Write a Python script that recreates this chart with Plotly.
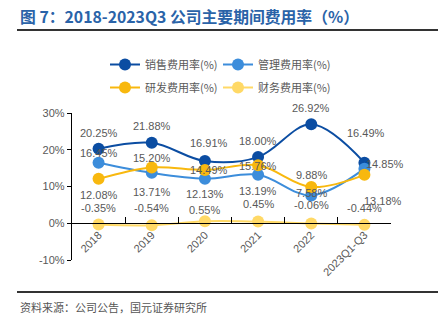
import plotly.graph_objects as go

categories = ["2018", "2019", "2020", "2021", "2022", "2023Q1-Q3"]
sales = [20.25, 21.88, 16.91, 18.00, 26.92, 16.49]
admin = [16.45, 13.71, 12.13, 13.19, 7.58, 14.85]
rnd = [12.08, 15.20, 14.49, 15.76, 9.88, 13.18]
finance = [-0.35, -0.54, 0.55, 0.45, -0.06, -0.44]
names = ["销售费用率(%)", "管理费用率(%)", "研发费用率(%)", "财务费用率(%)"]
y_ticks = [-10, 0, 10, 20, 30]

colors = ["#0B4DA2", "#3C8DDB", "#F8B80E", "#FFD966"]
legend_ids = ["legend", "legend2", "legend", "legend2"]
# label offsets (px) per series: (xshift, yshift)
offsets = [
    [(0, 16), (0, 17), (4, 18), (0, 16), (0, 16), (2, 30)],
    [(0, 10), (0, -19), (0, -15), (0, -16), (0, 2), (21, 5)],
    [(0, -16), (0, 9), (4, 0), (0, -1), (0, 12), (19, -26)],
    [(0, 17), (0, 17), (0, 11), (0, 18), (0, 18), (0, 17)],
]

series = [sales, admin, rnd, finance]
fig = go.Figure()
for k, (name, vals, col, lg) in enumerate(zip(names, series, colors, legend_ids)):
    fig.add_trace(go.Scatter(
        x=categories, y=vals, name=name, mode="lines+markers",
        line=dict(color=col, width=2, shape="spline", smoothing=1),
        marker=dict(color=col, size=12), legend=lg, legendgroup=f"g{k}",
    ))

for vals, offs in zip(series, offsets):
    for i, (v, (dx, dy)) in enumerate(zip(vals, offs)):
        fig.add_annotation(x=i, y=v, text=f"{v:.2f}%", showarrow=False,
                           xshift=dx, yshift=dy,
                           font=dict(size=11, color="#595959", family="Liberation Sans, Arial"))

# title, rules, source
fig.add_annotation(xref="paper", yref="paper", x=-0.168, y=(260 - 17) / 147,
                   xanchor="left", yanchor="middle", showarrow=False,
                   text="<b>图 7：2018-2023Q3 公司主要期间费用率（%）</b>",
                   font=dict(size=15.8, color="#2A63A8", family="Noto Sans CJK SC"))
fig.add_annotation(xref="paper", yref="paper", x=-0.168, y=(260 - 307) / 147,
                   xanchor="left", yanchor="middle", showarrow=False,
                   text="资料来源：公司公告，国元证券研究所",
                   font=dict(size=11, color="#555555", family="Noto Sans CJK SC"))
for ypx in (30, 292):
    fig.add_shape(type="line", xref="paper", yref="paper",
                  x0=(17 - 72) / 319, x1=(438 - 72) / 319,
                  y0=(260 - ypx) / 147, y1=(260 - ypx) / 147,
                  line=dict(color="#333333", width=2))

legend_common = dict(orientation="v", xanchor="left", yanchor="top",
                     font=dict(size=11, color="#595959", family="Noto Sans CJK SC"),
                     itemwidth=30, tracegroupgap=4, bgcolor="rgba(0,0,0,0)")

fig.update_layout(
    width=438, height=323,
    margin=dict(l=72, r=47, t=113, b=63),
    paper_bgcolor="white", plot_bgcolor="white",
    showlegend=True,
    legend=dict(x=(105 - 72) / 319, y=(260 - 50) / 147, **legend_common),
    legend2=dict(x=(218 - 72) / 319, y=(260 - 50) / 147, **legend_common),
    xaxis=dict(type="category", range=[-0.5, len(categories) - 0.5],
               anchor="free", position=0.25,
               showline=True, linecolor="black", linewidth=1.3,
               ticks="inside", tickson="boundaries", ticklen=6, tickcolor="black",
               tickangle=-45, showgrid=False, zeroline=False,
               tickfont=dict(size=11, color="#595959", family="Liberation Sans, Arial")),
    yaxis=dict(range=[-10, 30], tickvals=y_ticks, ticktext=[f"{t}%" for t in y_ticks],
               showline=True, linecolor="black", linewidth=1.3,
               ticks="outside", ticklen=4, tickcolor="black",
               showgrid=False, zeroline=False,
               tickfont=dict(size=11, color="#595959", family="Liberation Sans, Arial")),
)

fig.write_html("out.html")
